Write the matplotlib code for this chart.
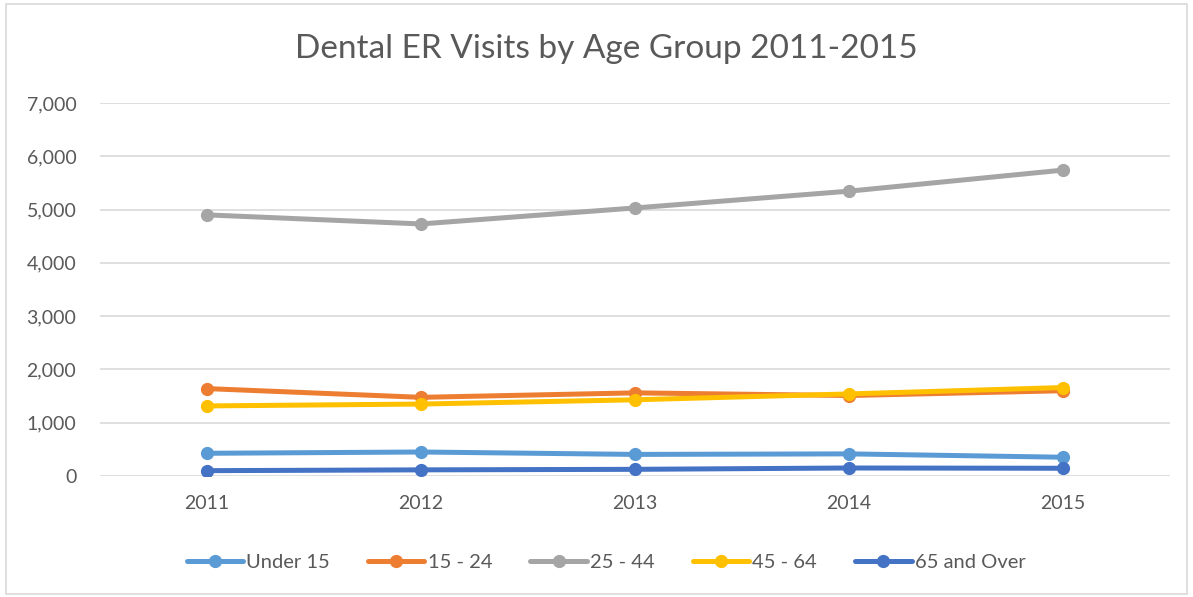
import numpy as np
import matplotlib.pyplot as plt
from matplotlib.patches import Rectangle

plt.rcParams['font.family'] = ['Lato', 'DejaVu Sans']

years = ['2011', '2012', '2013', '2014', '2015']
groups = ['Under 15', '15 - 24', '25 - 44', '45 - 64', '65 and Over']
under_15 = [426, 450, 405, 415, 352]
age_15_24 = [1640, 1476, 1560, 1510, 1600]
age_25_44 = [4900, 4730, 5030, 5345, 5740]
age_45_64 = [1315, 1350, 1430, 1540, 1660]
age_65_over = [100, 115, 125, 150, 145]
colors = ['#5B9BD5', '#ED7D31', '#A5A5A5', '#FFC000', '#4472C4']

series = [under_15, age_15_24, age_25_44, age_45_64, age_65_over]

fig = plt.figure(figsize=(11.93, 5.97), dpi=100)
ax = fig.add_axes([0.0838, 0.2027, 0.8969, 0.6248])

x = np.arange(len(years))
for name, vals, c in zip(groups, series, colors):
    ax.plot(x, vals, color=c, lw=3.6, marker='o', ms=8.5, label=name,
            solid_capstyle='round')

ax.set_xlim(-0.5, 4.5)
ax.set_ylim(0, 7000)
ax.set_yticks(np.arange(0, 7001, 1000))
ax.set_yticklabels(['{:,}'.format(v) for v in range(0, 7001, 1000)])
ax.set_xticks(x)
ax.set_xticklabels(years)
ax.grid(axis='y', color='#D9D9D9', lw=1.2)
ax.set_axisbelow(True)
for s in ax.spines.values():
    s.set_visible(False)
ax.tick_params(length=0, labelsize=14, labelcolor='#595959')
ax.tick_params(axis='y', pad=17)
ax.tick_params(axis='x', pad=14)

fig.text(0.508, 0.918, 'Dental ER Visits by Age Group 2011-2015', ha='center',
         va='center', fontsize=24, color='#595959')

fig.legend(loc='center', bbox_to_anchor=(0.508, 0.058), ncol=5, frameon=False,
           fontsize=14.5, labelcolor='#595959', handlelength=2.8,
           handletextpad=0.15, columnspacing=1.9)

fig.patches.append(Rectangle((0.005, 0.005), 0.99, 0.988, transform=fig.transFigure,
                             fill=False, edgecolor='#D9D9D9', lw=1.2))

fig.savefig('out.png', dpi=100)
